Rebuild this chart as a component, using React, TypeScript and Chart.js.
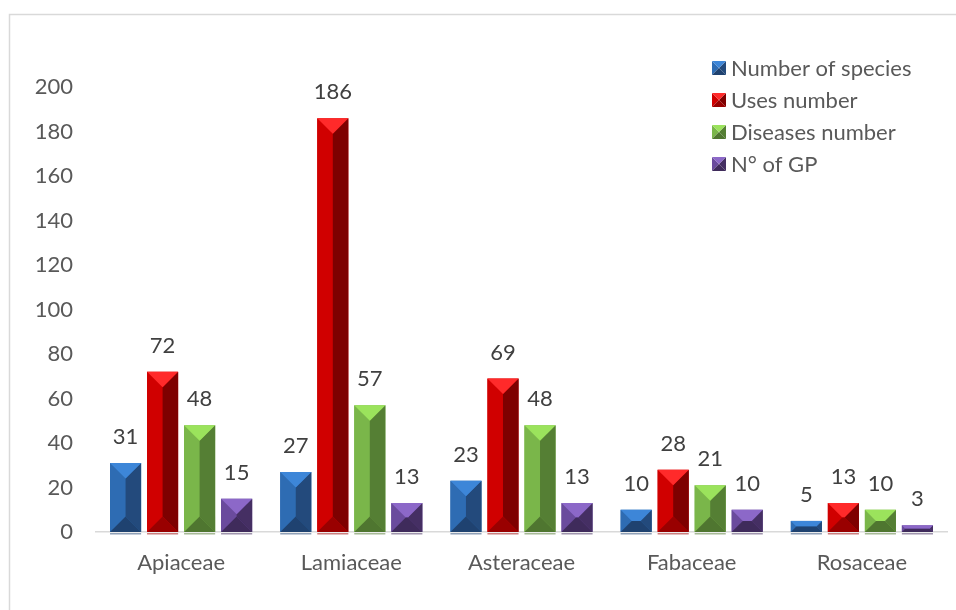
import React, { useEffect, useRef } from "react";
import { Chart, registerables } from "chart.js";

Chart.register(...registerables);

const categories = ["Apiaceae", "Lamiaceae", "Asteraceae", "Fabaceae", "Rosaceae"];
const seriesNames = ["Number of species", "Uses number", "Diseases number", "N° of GP"];
const speciesValues = [31, 27, 23, 10, 5];
const usesValues = [72, 186, 69, 28, 13];
const diseasesValues = [48, 57, 48, 21, 10];
const gpValues = [15, 13, 13, 10, 3];
const yTicks = [0, 20, 40, 60, 80, 100, 120, 140, 160, 180, 200];

// face colours: top, left, right, bottom
const palettes = [
  { top: "#3d86d8", left: "#2e6cb3", right: "#234a7c", bottom: "#1f4270" },
  { top: "#ff2a2a", left: "#d00000", right: "#7e0000", bottom: "#990000" },
  { top: "#9be35c", left: "#7ab64a", right: "#557f34", bottom: "#4f7630" },
  { top: "#8c68c8", left: "#6a4b9d", right: "#452f63", bottom: "#3f2b5b" },
];

const FONT = "Lato, 'Open Sans', sans-serif";
const TEXT = "#595959";
const FS = 22;

function drawBevel(ctx: CanvasRenderingContext2D, left: number, top: number, right: number, bottom: number, p: any) {
  const w = right - left;
  const h = bottom - top;
  if (w <= 0 || h <= 0) return;
  const d = Math.min(w, h) / 2;
  const poly = (pts: number[][], c: string) => {
    ctx.beginPath();
    ctx.moveTo(pts[0][0], pts[0][1]);
    for (let i = 1; i < pts.length; i++) ctx.lineTo(pts[i][0], pts[i][1]);
    ctx.closePath();
    ctx.fillStyle = c;
    ctx.fill();
  };
  poly([[left, top], [left + d, top + d], [left + d, bottom - d], [left, bottom]], p.left);
  poly([[right, top], [right - d, top + d], [right - d, bottom - d], [right, bottom]], p.right);
  poly([[left + d, top + d], [right - d, top + d], [right - d, bottom - d], [left + d, bottom - d]], p.left);
  poly([[left, top], [right, top], [right - d, top + d], [left + d, top + d]], p.top);
  poly([[left, bottom], [right, bottom], [right - d, bottom - d], [left + d, bottom - d]], p.bottom);
}

const framePlugin = {
  id: "frame",
  beforeDraw(chart: any) {
    const ctx = chart.ctx;
    ctx.save();
    ctx.fillStyle = "#ffffff";
    ctx.fillRect(0, 0, chart.width, chart.height);
    ctx.strokeStyle = "#d9d9d9";
    ctx.lineWidth = 1.5;
    ctx.strokeRect(9.5, 14.5, chart.width + 20, chart.height + 20);
    ctx.restore();
  },
};

const bevelPlugin = {
  id: "bevel",
  afterDatasetsDraw(chart: any) {
    const ctx = chart.ctx;
    ctx.save();
    chart.data.datasets.forEach((ds: any, di: number) => {
      const meta = chart.getDatasetMeta(di);
      meta.data.forEach((bar: any, i: number) => {
        const { x, y, base, width } = bar.getProps(["x", "y", "base", "width"], true);
        const left = x - width / 2;
        const right = x + width / 2;
        const top = Math.min(y, base);
        const bottom = Math.max(y, base);
        drawBevel(ctx, left, top, right, bottom, palettes[di]);
        ctx.fillStyle = palettes[di].bottom;
        ctx.globalAlpha = 0.5;
        ctx.fillRect(left, base + 1, width, 1.5);
        ctx.globalAlpha = 1;
        ctx.fillStyle = "#404040";
        ctx.font = `${FS}px ${FONT}`;
        ctx.textAlign = "center";
        ctx.textBaseline = "middle";
        ctx.fillText(String(ds.data[i]), x, top - 26);
      });
    });
    ctx.restore();
  },
};

const legendPlugin = {
  id: "customLegend",
  afterDraw(chart: any) {
    const ctx = chart.ctx;
    ctx.save();
    const boxX = 712;
    const y0 = 68;
    const step = 32;
    ctx.font = `${FS}px ${FONT}`;
    ctx.textAlign = "left";
    ctx.textBaseline = "middle";
    seriesNames.forEach((name, i) => {
      const cy = y0 + i * step;
      drawBevel(ctx, boxX, cy - 7, boxX + 14, cy + 7, palettes[i]);
      ctx.fillStyle = TEXT;
      ctx.fillText(name, boxX + 19, cy + 1);
    });
    ctx.restore();
  },
};

export default function App() {
  const ref = useRef<HTMLCanvasElement>(null);
  useEffect(() => {
    if (!ref.current) return;
    const allValues = [speciesValues, usesValues, diseasesValues, gpValues];
    const chart = new Chart(ref.current, {
      type: "bar",
      data: {
        labels: categories,
        datasets: allValues.map((vals, i) => ({
          label: seriesNames[i],
          data: vals,
          backgroundColor: palettes[i].left,
          borderWidth: 0,
          barPercentage: 0.84,
          categoryPercentage: 0.87,
        })),
      },
      options: {
        responsive: false,
        animation: false,
        layout: { padding: { left: 0, top: 87, right: 9, bottom: 0 } },
        plugins: {
          legend: { display: false },
          tooltip: { enabled: false },
        },
        scales: {
          x: {
            grid: { display: false, drawTicks: false },
            border: { display: true, color: "#d9d9d9", width: 1.5 },
            ticks: { color: TEXT, font: { family: FONT, size: FS }, padding: 18 },
            afterFit(scale: any) {
              scale.height = 78;
            },
          },
          y: {
            min: 0,
            max: 200,
            afterBuildTicks(scale: any) {
              scale.ticks = yTicks.map((v) => ({ value: v }));
            },
            grid: { display: false, drawTicks: false },
            border: { display: false },
            ticks: { color: TEXT, font: { family: FONT, size: FS }, padding: 23 },
            afterFit(scale: any) {
              scale.width = 96;
            },
          },
        },
      },
      plugins: [framePlugin, bevelPlugin, legendPlugin],
    });
    return () => chart.destroy();
  }, []);
  return (
    <div style={{ position: "absolute", left: 0, top: 0, width: 956, height: 610, overflow: "hidden" }}>
      <canvas ref={ref} width={956} height={610} />
    </div>
  );
}
